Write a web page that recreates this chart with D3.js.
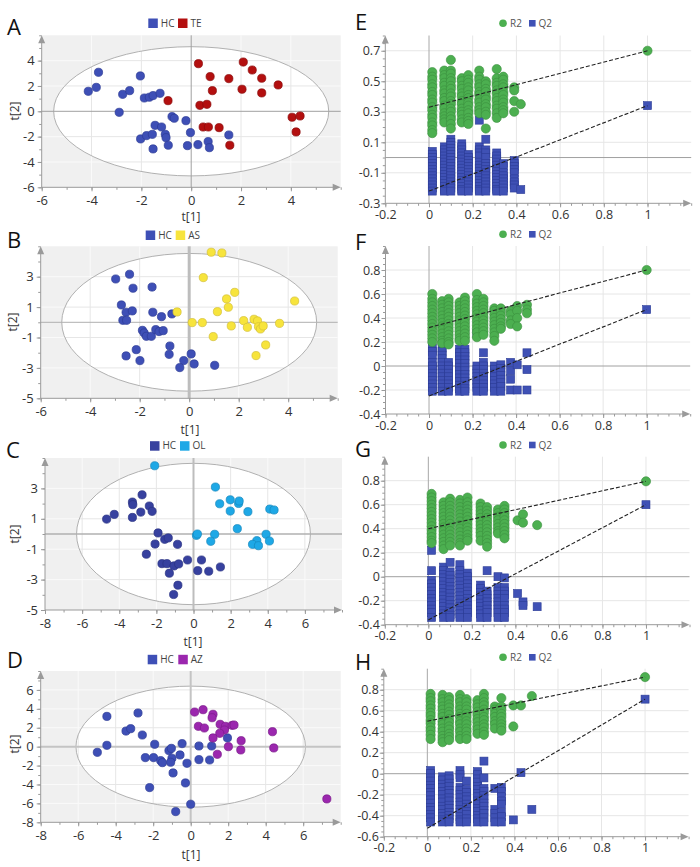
<!DOCTYPE html>
<html><head><meta charset="utf-8">
<script src="https://cdn.jsdelivr.net/npm/d3@7"></script>
<style>body{margin:0;background:#fff;}svg{display:block;}</style>
</head><body>
<svg id="chart" width="700" height="867" font-family="'Open Sans', sans-serif"></svg>
<script>
// ---------------- DATA ----------------
const groupsA = ["HC","TE"], groupsB = ["HC","AS"], groupsC = ["HC","OL"], groupsD = ["HC","AZ"];
const scoreTicksA_x = [-6,-4,-2,0,2,4], scoreTicksA_y = [-6,-4,-2,0,2,4];
const scoreTicksB_x = [-6,-4,-2,0,2,4], scoreTicksB_y = [-5,-3,-1,1,3];
const scoreTicksC_x = [-8,-6,-4,-2,0,2,4,6], scoreTicksC_y = [-5,-3,-1,1,3];
const scoreTicksD_x = [-8,-6,-4,-2,0,2,4,6], scoreTicksD_y = [-8,-6,-4,-2,0,2,4,6];
// Hotelling T2 ellipse semi-axes (t1, t2)
const ellipseA = [5.52,5.1], ellipseB = [5.15,4.53], ellipseC = [6.3,4.65], ellipseD = [6.12,6.4];

const A_HC = [[-3.72,3.08],[-4.13,1.58],[-3.81,1.89],[-2.75,1.34],[-2.47,1.63],[-2.04,2.79],[-2.89,-0.08],[-1.88,1.05],[-1.68,1.11],[-1.53,1.24],[-1.25,1.42],[-1.45,-1.11],[-1.19,-1.24],[-0.77,-0.42],[-0.68,-0.55],[-0.21,-0.74],[-0.03,-1.68],[-2.03,-2.18],[-1.79,-1.92],[-1.56,-1.82],[-1.04,-1.82],[-1.01,-2.08],[-0.92,-2.68],[-1.53,-2.97],[-0.15,-2.71],[0.27,-2.63],[0.68,-2.39],[0.73,-2.87],[1.51,-1.87]];
const A_TE = [[0.29,3.76],[2.09,3.89],[2.45,3.26],[0.76,2.74],[1.51,2.58],[2.83,2.61],[3.49,2.08],[0.85,1.63],[2.04,1.74],[2.83,1.45],[-0.93,0.84],[0.35,0.47],[0.63,0.55],[4.05,-0.47],[4.37,-0.37],[4.21,-1.63],[0.48,-1.24],[0.69,-1.24],[1.12,-1.29],[1.55,-2.68]];
const B_HC = [[-2.97,2.85],[-2.41,3.16],[-2.27,2.24],[-1.5,2.32],[-2.74,1.14],[-2.55,0.66],[-2.3,0.75],[-2.68,0.13],[-2.53,0.13],[-1.47,0.66],[-1.12,0.37],[-0.7,0.55],[-1.89,-0.53],[-1.82,-0.7],[-1.73,-0.92],[-1.53,-0.92],[-1.35,-0.48],[-1.22,-0.61],[-1.05,-0.55],[-0.78,-1.56],[-0.81,-2.11],[-2.14,-1.8],[-2.55,-2.21],[-1.99,-2.52],[-0.22,-2.52],[0.08,-2.08],[0.2,-2.74],[-0.38,-2.98],[1.03,-2.83]];
const B_AS = [[0.89,4.61],[1.32,4.56],[0.57,2.94],[1.84,1.97],[1.51,1.54],[1.58,0.99],[1.14,0.7],[-0.49,0.68],[4.26,1.4],[0.12,-0.02],[0.53,-0.02],[1.7,-0.24],[2.2,0.11],[2.35,-0.33],[2.62,0.2],[2.76,0.09],[2.8,-0.29],[2.88,-0.44],[2.99,-0.24],[3.65,-0.07],[0.97,-0.94],[3.09,-1.49],[2.7,-2.19]];
const C_HC = [[-2.77,2.58],[-3.29,2.1],[-3.27,1.93],[-2.38,1.84],[-2.84,1.44],[-2.23,1.49],[-3.29,1.09],[-4.27,1.29],[-4.68,0.98],[-1.91,0.07],[-2.07,-0.66],[-1.55,-0.35],[-1.36,-0.26],[-0.86,-0.68],[-2.54,-1.33],[-1.7,-1.95],[-1.43,-1.95],[-1.3,-2.58],[-1.05,-2.1],[-0.8,-1.97],[-0.32,-1.71],[0.43,-1.71],[0.23,-2.41],[0.82,-2.45],[1.45,-2.17],[-0.84,-3.37],[-1.07,-3.98]];
const C_OL = [[-2.09,4.49],[1.18,3.09],[1.41,1.99],[1.98,2.25],[1.98,1.51],[2.43,2.01],[2.46,2.17],[2.93,1.47],[4.11,1.64],[4.34,1.58],[2.36,0.35],[0.16,-0.09],[0.21,0.0],[1.14,-0.02],[0.93,-0.48],[3.91,-0.02],[4.09,-0.46],[3.41,-0.44],[3.18,-0.68],[3.5,-0.77]];
const D_HC = [[-4.47,3.2],[-2.81,3.56],[-3.45,1.65],[-3.2,1.9],[-2.58,1.23],[-4.47,0.14],[-4.98,-0.6],[-1.92,0.25],[-0.46,0.32],[0.44,0.07],[1.12,0.07],[1.96,0.92],[-2.42,-1.16],[-1.98,-1.16],[-1.16,-0.42],[-1.03,-0.18],[-1.0,-1.23],[-1.07,-1.65],[-1.6,-1.48],[-1.51,-1.69],[-0.57,-0.88],[-0.2,-1.76],[0.44,-1.37],[1.01,-1.41],[-0.94,-2.78],[-0.28,-3.84],[-2.19,-4.33],[0.0,-6.09],[-0.8,-6.87]];
const D_AZ = [[0.21,3.66],[0.66,3.91],[1.19,3.42],[1.14,3.06],[0.41,2.15],[0.73,1.97],[1.57,2.36],[1.85,2.15],[1.8,1.76],[2.21,2.25],[2.31,2.29],[1.55,1.41],[1.19,0.92],[4.36,1.58],[2.69,0.63],[2.01,0.0],[2.67,-0.35],[1.42,-0.81],[4.43,-0.14],[7.26,-5.53]];

// permutation plots
const permSeries = ["R2","Q2"];
const permTicks_x = [-0.2,0,0.2,0.4,0.6,0.8,1];
const permTicksE_y = [-0.3,-0.1,0.1,0.3,0.5,0.7];
const permTicksF_y = [-0.4,-0.2,0,0.2,0.4,0.6,0.8];
const permTicksG_y = [-0.4,-0.2,0,0.2,0.4,0.6,0.8];
const permTicksH_y = [-0.6,-0.4,-0.2,0,0.2,0.4,0.6,0.8];

const permE_x = [0.015,0.07,0.10,0.15,0.18,0.23,0.26,0.31,0.34,0.39,0.42];
const permE_r2 = [
 [0.56,0.53,0.51,0.48,0.46,0.43,0.41,0.38,0.36,0.33,0.31,0.28,0.26,0.23,0.21,0.18,0.16],
 [0.57,0.54,0.52,0.49,0.47,0.44,0.42,0.39,0.37,0.34,0.32,0.29,0.27,0.25,0.23],
 [0.64,0.57,0.55,0.52,0.50,0.47,0.45,0.42,0.40,0.37,0.35,0.32,0.30,0.27,0.25,0.22,0.19],
 [0.52,0.50,0.47,0.45,0.42,0.40,0.37,0.35,0.32,0.30,0.28,0.25,0.23],
 [0.54,0.51,0.49,0.46,0.44,0.41,0.39,0.36,0.34,0.31,0.29,0.26,0.24,0.22],
 [0.57,0.53,0.51,0.48,0.46,0.43,0.41,0.38,0.36,0.33,0.31,0.29],
 [0.50,0.48,0.45,0.43,0.40,0.38,0.35,0.33,0.30,0.28,0.19],
 [0.58,0.52,0.49,0.47,0.44,0.42,0.39,0.37,0.34,0.32,0.29,0.26],
 [0.53,0.51,0.48,0.46,0.43,0.41,0.38,0.36,0.33,0.31,0.29],
 [0.46,0.44,0.37,0.30],
 [0.35]];
const permE_q2 = [
 [0.04,0.02,0.00,-0.02,-0.04,-0.06,-0.08,-0.10,-0.12,-0.14,-0.16,-0.18,-0.20,-0.22],
 [0.07,0.05,0.03,0.01,-0.01,-0.03,-0.05,-0.07,-0.09,-0.11,-0.13,-0.15,-0.17,-0.19,-0.21,-0.22],
 [0.12,0.10,0.08,0.06,0.04,0.02,0.00,-0.02,-0.04,-0.06,-0.08,-0.10,-0.12,-0.14,-0.16,-0.18,-0.20,-0.22],
 [0.09,0.07,0.05,0.03,0.01,-0.01,-0.03,-0.05,-0.07,-0.09,-0.11,-0.13,-0.15,-0.17,-0.19,-0.21,-0.22],
 [0.02,0.00,-0.02,-0.04,-0.06,-0.08,-0.10,-0.12,-0.14,-0.16,-0.18,-0.20,-0.22],
 [0.245,0.07,0.05,0.03,0.01,-0.03,-0.05,-0.07,-0.09,-0.11,-0.13,-0.15,-0.17,-0.19,-0.21,-0.22],
 [0.12,0.05,0.03,0.00,-0.04,-0.06,-0.08,-0.10,-0.12,-0.14,-0.16,-0.18,-0.20,-0.22],
 [0.03,0.01,-0.01,-0.03,-0.05,-0.07,-0.09,-0.11,-0.13,-0.15,-0.17,-0.19,-0.21,-0.22],
 [-0.04,-0.06,-0.10,-0.12,-0.14,-0.16,-0.18,-0.20,-0.22],
 [-0.02,-0.04,-0.06,-0.08,-0.10,-0.14,-0.16,-0.18,-0.20],
 [-0.21]];
const permE_orig = [0.70, 0.34], permE_int = [0.33, -0.22];

const permF_x = [0.015,0.06,0.09,0.14,0.165,0.22,0.25,0.30,0.33,0.375,0.405,0.45];
const permF_r2 = [
 [0.60,0.56,0.53,0.50,0.47,0.44,0.41,0.38,0.35,0.32,0.29,0.26,0.23,0.20],
 [0.54,0.51,0.48,0.45,0.42,0.39,0.36,0.33,0.30,0.27,0.24,0.21,0.19],
 [0.56,0.53,0.50,0.47,0.44,0.41,0.38,0.35,0.32,0.29,0.26,0.23,0.20,0.18],
 [0.53,0.50,0.47,0.44,0.41,0.38,0.35,0.32,0.29,0.26,0.23,0.21],
 [0.57,0.54,0.51,0.48,0.45,0.42,0.39,0.36,0.33,0.30,0.27,0.24,0.21],
 [0.60,0.55,0.52,0.49,0.46,0.43,0.40,0.37,0.34,0.31,0.28,0.24],
 [0.56,0.53,0.50,0.47,0.44,0.41,0.38,0.35,0.32,0.29,0.26],
 [0.48,0.46,0.43,0.40,0.37,0.34,0.31,0.28,0.25,0.21],
 [0.48,0.45,0.42,0.39,0.36,0.33,0.31],
 [0.46,0.43,0.38,0.35],
 [0.50,0.46,0.40,0.33],
 [0.51,0.47,0.44]];
const permF_q2 = [
 [0.15,0.12,0.09,0.03,0.00,-0.03,-0.06,-0.09,-0.12,-0.15,-0.18,-0.21],
 [0.15,0.12,0.09,0.06,0.03,0.00,-0.03,-0.06,-0.09,-0.12,-0.15,-0.18,-0.21],
 [0.03,0.00,-0.03,-0.06,-0.09,-0.12,-0.15,-0.18,-0.21],
 [0.14,0.11,0.08,0.05,0.02,-0.01,-0.04,-0.07,-0.10,-0.13,-0.16,-0.19,-0.21],
 [0.14,0.11,0.08,0.05,0.02,-0.01,-0.04,-0.07,-0.10,-0.13,-0.16,-0.19,-0.21],
 [0.27,0.00,-0.03,-0.06,-0.09,-0.12,-0.15,-0.18,-0.21],
 [0.11,0.03,0.00,-0.03,-0.06,-0.09,-0.12,-0.15,-0.18,-0.21],
 [0.00,-0.03,-0.06,-0.09,-0.12,-0.15,-0.18,-0.21],
 [0.01,-0.02,-0.05,-0.08,-0.11,-0.14,-0.17,-0.21],
 [0.03,-0.04,-0.11,-0.20],
 [0.01,-0.20],
 [0.11,-0.03,-0.20]];
const permF_orig = [0.80, 0.47], permF_int = [0.32, -0.25];

const permG_x = [0.015,0.07,0.10,0.145,0.18,0.24,0.27,0.32,0.35,0.41,0.435,0.50];
const permG_r2 = [
 [0.69,0.66,0.63,0.60,0.57,0.54,0.51,0.48,0.45,0.42,0.39,0.36,0.33,0.30,0.28],
 [0.62,0.59,0.56,0.53,0.50,0.47,0.44,0.41,0.38,0.35,0.32,0.29,0.26,0.23],
 [0.65,0.62,0.59,0.56,0.53,0.50,0.47,0.44,0.41,0.38,0.35,0.32,0.29,0.26],
 [0.64,0.61,0.58,0.55,0.52,0.49,0.46,0.43,0.40,0.37,0.34,0.31,0.28,0.26],
 [0.66,0.62,0.59,0.56,0.53,0.50,0.47,0.44,0.41,0.38,0.35,0.32,0.30],
 [0.61,0.58,0.55,0.52,0.49,0.46,0.43,0.40,0.37,0.34,0.30],
 [0.58,0.55,0.52,0.49,0.46,0.43,0.40,0.37,0.34,0.31,0.28,0.25],
 [0.56,0.53,0.50,0.47,0.44,0.41,0.38,0.36],
 [0.59,0.56,0.53,0.50,0.47,0.44,0.41,0.38,0.35,0.32],
 [0.47],
 [0.52,0.45],
 [0.43]];
const permG_q2 = [
 [0.22,0.05,-0.03,-0.06,-0.09,-0.12,-0.15,-0.18,-0.21,-0.24,-0.27,-0.30,-0.34],
 [0.08,0.05,0.02,-0.01,-0.04,-0.07,-0.10,-0.13,-0.16,-0.19,-0.22,-0.25,-0.28,-0.31,-0.34],
 [0.12,0.04,0.01,-0.02,-0.05,-0.08,-0.11,-0.14,-0.17,-0.20,-0.23,-0.26,-0.29,-0.32,-0.34],
 [0.10,0.05,0.02,-0.01,-0.04,-0.07,-0.10,-0.13,-0.16,-0.19,-0.22,-0.25,-0.28,-0.31,-0.34],
 [0.03,0.00,-0.03,-0.06,-0.09,-0.12,-0.15,-0.18,-0.21,-0.24,-0.27,-0.30,-0.34],
 [-0.07,-0.10,-0.13,-0.16,-0.19,-0.22,-0.25,-0.28,-0.31,-0.34],
 [0.05,-0.12,-0.15,-0.18,-0.21,-0.24,-0.27,-0.30,-0.34],
 [0.00,-0.09,-0.12,-0.15,-0.18,-0.21,-0.24,-0.27,-0.30,-0.34],
 [-0.01,-0.09,-0.12,-0.15,-0.18,-0.24,-0.27,-0.30,-0.34],
 [-0.14],
 [-0.21,-0.24],
 [-0.25]];
const permG_orig = [0.795, 0.60], permG_int = [0.40, -0.36];

const permH_x = [0.015,0.07,0.10,0.15,0.18,0.23,0.26,0.31,0.34,0.395,0.43,0.48];
const permH_r2 = [
 [0.76,0.72,0.69,0.65,0.62,0.58,0.55,0.51,0.48,0.44,0.41,0.37,0.33],
 [0.75,0.71,0.68,0.64,0.61,0.57,0.54,0.50,0.47,0.43,0.40,0.36,0.33,0.30],
 [0.73,0.70,0.66,0.63,0.59,0.56,0.52,0.49,0.45,0.42,0.38,0.35,0.32],
 [0.75,0.71,0.68,0.64,0.61,0.57,0.54,0.50,0.47,0.43,0.40,0.36,0.33],
 [0.71,0.68,0.64,0.61,0.57,0.54,0.50,0.47,0.43,0.40,0.36,0.33],
 [0.70,0.66,0.63,0.59,0.56,0.52,0.49,0.45,0.42,0.38],
 [0.76,0.72,0.68,0.65,0.61,0.58,0.54,0.51,0.47,0.44,0.40,0.37],
 [0.64,0.61,0.57,0.54,0.50,0.47,0.43],
 [0.72,0.64,0.61,0.57,0.54,0.50,0.47,0.44,0.41],
 [0.65,0.45],
 [0.65],
 [0.74]];
const permH_q2 = [
 [0.03,0.00,-0.04,-0.07,-0.11,-0.14,-0.18,-0.21,-0.25,-0.28,-0.32,-0.35,-0.39,-0.42,-0.46],
 [-0.03,-0.06,-0.10,-0.13,-0.17,-0.20,-0.24,-0.27,-0.31,-0.34,-0.38,-0.41,-0.44,-0.46],
 [-0.02,-0.05,-0.09,-0.12,-0.16,-0.19,-0.23,-0.26,-0.30,-0.33,-0.37,-0.40,-0.43,-0.46],
 [0.03,-0.01,-0.04,-0.13,-0.16,-0.20,-0.23,-0.27,-0.30,-0.34,-0.37,-0.41,-0.44,-0.46],
 [-0.07,-0.15,-0.18,-0.22,-0.25,-0.29,-0.32,-0.36,-0.39,-0.43,-0.46],
 [0.02,-0.01,-0.05,-0.08,-0.12,-0.15,-0.19,-0.22,-0.26,-0.29,-0.33,-0.36,-0.40,-0.43,-0.46],
 [0.12,-0.04,-0.14,-0.17,-0.21,-0.24,-0.28,-0.31,-0.35,-0.38,-0.42,-0.46],
 [-0.14,-0.34,-0.38,-0.42,-0.46],
 [-0.13,-0.17,-0.22,-0.26,-0.29,-0.37,-0.41,-0.46],
 [-0.44],
 [0.01],
 [-0.34]];
const permH_orig = [0.92, 0.71], permH_int = [0.50, -0.52];

// ---------------- DRAWING ----------------
const svg = d3.select('#chart');
const defs = svg.append('defs');
const AX = '#9a9a9a';
const fmt = d => String(+(+d).toFixed(2));

function arrowUp(g, x, y){ g.append('path').attr('d',`M${x-3.5},${y+8}L${x},${y}L${x+3.5},${y+8}Z`).attr('fill',AX); }
function arrowRight(g, x, y){ g.append('path').attr('d',`M${x-8},${y-3.5}L${x},${y}L${x-8},${y+3.5}Z`).attr('fill',AX); }

function axes(g, x, y, xTicks, yTicks, xMinor, yMinor, xLab, yLab, fs) {
  const [L,R] = x.range(), [B,T] = y.range();
  g.append('line').attr('x1',L).attr('x2',L).attr('y1',B).attr('y2',T+4).attr('stroke',AX);
  arrowUp(g, L, T);
  g.append('line').attr('x1',L).attr('x2',R-4).attr('y1',B).attr('y2',B).attr('stroke',AX);
  arrowRight(g, R, B);
  const mx = g.append('g').attr('transform',`translate(0,${B})`).call(d3.axisBottom(x).tickValues(xMinor).tickSize(2.5).tickFormat(''));
  const my = g.append('g').attr('transform',`translate(${L},0)`).call(d3.axisLeft(y).tickValues(yMinor).tickSize(2.5).tickFormat(''));
  const xa = g.append('g').attr('transform',`translate(0,${B})`).call(d3.axisBottom(x).tickValues(xTicks).tickSize(4).tickFormat(fmt));
  const ya = g.append('g').attr('transform',`translate(${L},0)`).call(d3.axisLeft(y).tickValues(yTicks).tickSize(4).tickFormat(fmt));
  [mx,my,xa,ya].forEach(a => { a.select('.domain').remove(); a.selectAll('line').attr('stroke',AX);
    a.attr('font-family',"'Open Sans', sans-serif").attr('font-size',fs); });
  xa.selectAll('text').attr('y',xLab).attr('dy','0').attr('fill','#333');
  ya.selectAll('text').attr('x',yLab).attr('fill','#333');
}

function gridLines(g, x, y, xs, ys, color) {
  const [L,R] = x.range(), [B,T] = y.range();
  xs.forEach(v => g.append('line').attr('x1',x(v)).attr('x2',x(v)).attr('y1',B).attr('y2',T).attr('stroke',color));
  ys.forEach(v => g.append('line').attr('x1',L).attr('x2',R).attr('y1',y(v)).attr('y2',y(v)).attr('stroke',color));
}

const scorePanels = [
  {id:'A', groups:groupsA, data:[A_HC,A_TE], fill:['#3e4fb6','#b30f0f'], stroke:['#2d3b95','#8a0a0a'],
   xDom:[-6,6], yDom:[-6,6], xr:[41.7,340.7], yr:[187.3,35.3], xT:scoreTicksA_x, yT:scoreTicksA_y, ell:ellipseA,
   zw:[1,1], zc:['#a0a0a0','#a0a0a0'], leg:[148.3,178], legY:23, lt:[7,35], t2:[15,111], t1:[191,221]},
  {id:'B', groups:groupsB, data:[B_HC,B_AS], fill:['#3e4fb6','#f7e43c'], stroke:['#2d3b95','#d2bf36'],
   xDom:[-6,6], yDom:[-5,5], xr:[40.7,337.7], yr:[398.3,246.3], xT:scoreTicksB_x, yT:scoreTicksB_y, ell:ellipseB,
   zw:[3,1], zc:['#bdbdbd','#b0b0b0'], leg:[145.7,175.7], legY:235, lt:[7,248], t2:[13,322], t1:[190,434]},
  {id:'C', groups:groupsC, data:[C_HC,C_OL], fill:['#37419f','#1ea8e6'], stroke:['#2a3283','#1587bb'],
   xDom:[-8,8], yDom:[-5,5], xr:[45,342], yr:[610,458], xT:scoreTicksC_x, yT:scoreTicksC_y, ell:ellipseC,
   zw:[2,1.5], zc:['#bdbdbd','#b0b0b0'], leg:[150,180], legY:445.7, lt:[6,458], t2:[15,534], t1:[193,646]},
  {id:'D', groups:groupsD, data:[D_HC,D_AZ], fill:['#3e4fb6','#9b27ae'], stroke:['#2d3b95','#7a1a8a'],
   xDom:[-8,8], yDom:[-8,8], xr:[40.7,340.7], yr:[822.3,671], xT:scoreTicksD_x, yT:scoreTicksD_y, ell:ellipseD,
   zw:[2,2], zc:['#c4c4c4','#c4c4c4'], leg:[147.7,178.3], legY:659.3, lt:[7,668], t2:[15,744], t1:[191,859]}
];

scorePanels.forEach(p => {
  const g = svg.append('g');
  const x = d3.scaleLinear().domain(p.xDom).range(p.xr);
  const y = d3.scaleLinear().domain(p.yDom).range(p.yr);
  const [L,R] = p.xr, [B,T] = p.yr;
  g.append('rect').attr('x',L).attr('y',T).attr('width',R-L).attr('height',B-T).attr('fill','#f0f0f0');
  const gx = p.xT.filter(v => v !== 0 && v !== p.xDom[0]);
  const gy = p.yT.filter(v => v !== 0 && v !== p.yDom[0]);
  gridLines(g, x, y, gx, gy, '#fafafa');
  const cx = x(0), cy = y(0), rx = x(p.ell[0]) - x(0), ry = y(0) - y(p.ell[1]);
  defs.append('clipPath').attr('id','clip'+p.id).append('ellipse').attr('cx',cx).attr('cy',cy).attr('rx',rx).attr('ry',ry);
  g.append('ellipse').attr('cx',cx).attr('cy',cy).attr('rx',rx).attr('ry',ry).attr('fill','#fff');
  gridLines(g.append('g').attr('clip-path',`url(#clip${p.id})`), x, y, gx, gy, '#e6e6e6');
  g.append('ellipse').attr('cx',cx).attr('cy',cy).attr('rx',rx).attr('ry',ry).attr('fill','none').attr('stroke','#a8a8a8').attr('stroke-width',0.9);
  g.append('line').attr('x1',x(0)).attr('x2',x(0)).attr('y1',B).attr('y2',T).attr('stroke',p.zc[0]).attr('stroke-width',p.zw[0]);
  g.append('line').attr('x1',L).attr('x2',R).attr('y1',y(0)).attr('y2',y(0)).attr('stroke',p.zc[1]).attr('stroke-width',p.zw[1]);
  const step = p.xT[1]-p.xT[0];
  axes(g, x, y, p.xT, p.yT, d3.range(p.xDom[0], p.xDom[1]+0.01, step/2), d3.range(p.yDom[0], p.yDom[1]+0.01, (p.yT[1]-p.yT[0])/2), 18, -7, 13);
  p.data.forEach((pts, i) => {
    g.append('g').selectAll('circle').data(pts).join('circle')
      .attr('cx', d => x(d[0])).attr('cy', d => y(d[1])).attr('r', 4.1)
      .attr('fill', p.fill[i]).attr('stroke', p.stroke[i]).attr('stroke-width', 0.7);
  });
  p.groups.forEach((name, i) => {
    g.append('rect').attr('x',p.leg[i]).attr('y',p.legY-4.5).attr('width',9.5).attr('height',9.5).attr('fill',p.fill[i]);
    g.append('text').attr('x',p.leg[i]+12.5).attr('y',p.legY+3.5).attr('font-size',10).attr('fill','#444').text(name);
  });
  g.append('text').attr('x',p.lt[0]).attr('y',p.lt[1]).attr('font-size',22).attr('fill','#111').text(p.id);
  g.append('text').attr('transform',`translate(${p.t2[0]},${p.t2[1]}) rotate(-90)`).attr('text-anchor','middle').attr('dy','0.35em').attr('font-size',12).attr('fill','#333').text('t[2]');
  g.append('text').attr('x',p.t1[0]).attr('y',p.t1[1]).attr('text-anchor','middle').attr('font-size',12).attr('fill','#333').text('t[1]');
});

const permPanels = [
  {id:'E', px:permE_x, r2:permE_r2, q2:permE_q2, orig:permE_orig, int:permE_int, yDom:[-0.3,0.8], xr:[385.3,691.2], yr:[203.3,35.5], yT:permTicksE_y, legY:23.3, lt:[355,30]},
  {id:'F', px:permF_x, r2:permF_r2, q2:permF_q2, orig:permF_orig, int:permF_int, yDom:[-0.4,1.0], xr:[385.5,690.2], yr:[414,246], yT:permTicksF_y, legY:234.3, lt:[355,250]},
  {id:'G', px:permG_x, r2:permG_r2, q2:permG_q2, orig:permG_orig, int:permG_int, yDom:[-0.4,1.0], xr:[384.8,689.5], yr:[624.7,456.7], yT:permTicksG_y, legY:445, lt:[355,457]},
  {id:'H', px:permH_x, r2:permH_r2, q2:permH_q2, orig:permH_orig, int:permH_int, yDom:[-0.6,1.0], xr:[383.8,688.6], yr:[836.7,668.7], yT:permTicksH_y, legY:657.3, lt:[355,670]}
];
const GREEN = '#4caf50', GREEN_S = '#3a8e3e', BLUE = '#3f51b5', BLUE_S = '#2c3c96';

permPanels.forEach(p => {
  const g = svg.append('g');
  const x = d3.scaleLinear().domain([-0.2,1.2]).range(p.xr);
  const y = d3.scaleLinear().domain(p.yDom).range(p.yr);
  const [L,R] = p.xr, [B,T] = p.yr;
  gridLines(g, x, y, permTicks_x.filter(v => v > 0), p.yT.filter(v => v !== 0 && v !== p.yDom[0]), '#e6e6e6');
  g.append('line').attr('x1',x(0)).attr('x2',x(0)).attr('y1',B).attr('y2',T).attr('stroke','#a8a8a8');
  g.append('line').attr('x1',L).attr('x2',R).attr('y1',y(0)).attr('y2',y(0)).attr('stroke','#a0a0a0');
  axes(g, x, y, permTicks_x, p.yT, d3.range(-0.2, 1.21, 0.05), d3.range(p.yDom[0], p.yDom[1]+0.001, 0.05), 15.5, -5, 12.5);
  const r2pts = [], q2pts = [];
  p.px.forEach((xv, i) => { p.r2[i].forEach(v => r2pts.push([xv, v])); p.q2[i].forEach(v => q2pts.push([xv, v])); });
  r2pts.push([1, p.orig[0]]); q2pts.push([1, p.orig[1]]);
  g.append('g').selectAll('rect').data(q2pts).join('rect')
    .attr('x', d => x(d[0]) - 4).attr('y', d => y(d[1]) - 4).attr('width', 8).attr('height', 8)
    .attr('fill', BLUE).attr('stroke', BLUE_S).attr('stroke-width', 0.6);
  g.append('g').selectAll('circle').data(r2pts).join('circle')
    .attr('cx', d => x(d[0])).attr('cy', d => y(d[1])).attr('r', 4.6)
    .attr('fill', GREEN).attr('stroke', GREEN_S).attr('stroke-width', 0.6);
  [0,1].forEach(k => {
    g.append('line').attr('x1', x(0)).attr('y1', y(p.int[k])).attr('x2', x(1)).attr('y2', y(p.orig[k]))
      .attr('stroke', '#222').attr('stroke-width', 1.1).attr('stroke-dasharray', '4,2');
  });
  g.append('circle').attr('cx',503).attr('cy',p.legY).attr('r',3.8).attr('fill',GREEN);
  g.append('text').attr('x',510).attr('y',p.legY+3.5).attr('font-size',10).attr('fill','#555').text(permSeries[0]);
  g.append('rect').attr('x',529).attr('y',p.legY-3.3).attr('width',6.6).attr('height',6.6).attr('fill',BLUE);
  g.append('text').attr('x',538.5).attr('y',p.legY+3.5).attr('font-size',10).attr('fill','#555').text(permSeries[1]);
  g.append('text').attr('x',p.lt[0]).attr('y',p.lt[1]).attr('font-size',22).attr('fill','#111').text(p.id);
});
</script>
</body></html>
